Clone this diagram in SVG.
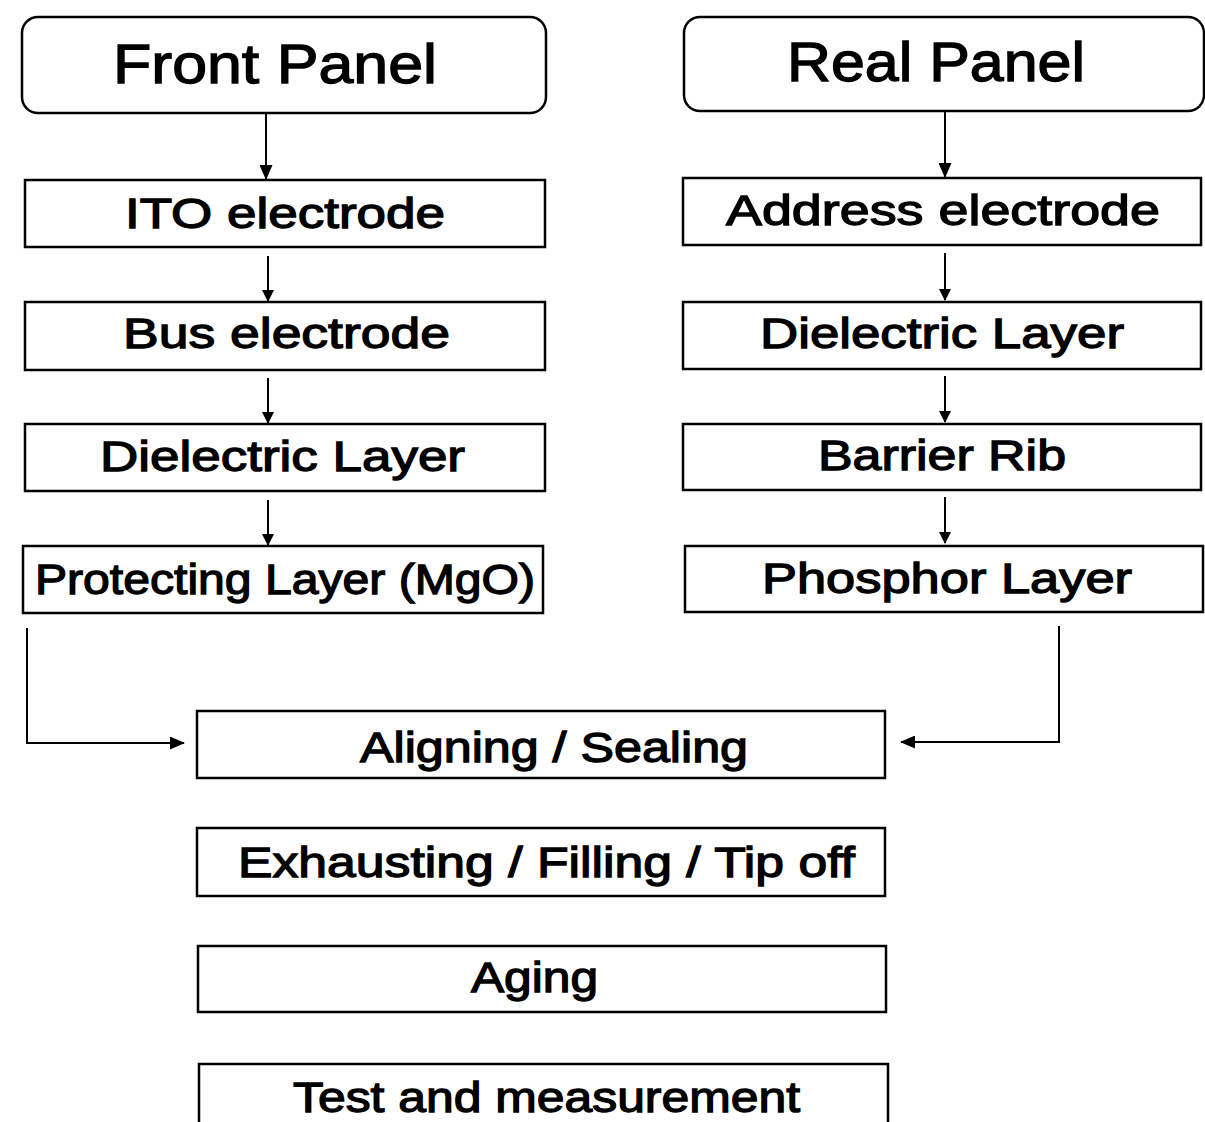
<svg xmlns="http://www.w3.org/2000/svg" width="1205" height="1122" viewBox="0 0 1205 1122">
<style>
.box{fill:#fff;stroke:#000;stroke-width:2.5}
.t{font-family:"Liberation Sans",Arial,sans-serif;font-weight:normal;fill:#000;stroke:#000;stroke-width:1.3}
.big{font-size:56px}
.mid{font-size:43px}
.c{fill:none;stroke:#000;stroke-width:2}
</style>
<defs>
<marker id="ah" markerWidth="12" markerHeight="12" refX="11" refY="6" orient="auto" markerUnits="userSpaceOnUse" viewBox="0 0 12 12">
<path d="M0,0 L12,6 L0,12 z" fill="#000"/>
</marker>
<marker id="ah2" markerWidth="15" markerHeight="13" refX="14" refY="6.5" orient="auto" markerUnits="userSpaceOnUse" viewBox="0 0 15 13">
<path d="M0,0 L15,6.5 L0,13 z" fill="#000"/>
</marker>
</defs>
<rect width="1205" height="1122" fill="#fff"/>
<g id="connectors">
<line class="c" x1="266" y1="113" x2="266" y2="179" marker-end="url(#ah2)"/>
<line class="c" x1="268" y1="256" x2="268" y2="301" marker-end="url(#ah)"/>
<line class="c" x1="268" y1="378" x2="268" y2="423" marker-end="url(#ah)"/>
<line class="c" x1="268" y1="500" x2="268" y2="545" marker-end="url(#ah)"/>
<line class="c" x1="945" y1="111" x2="945" y2="177" marker-end="url(#ah2)"/>
<line class="c" x1="945" y1="253" x2="945" y2="300" marker-end="url(#ah)"/>
<line class="c" x1="945" y1="376" x2="945" y2="422" marker-end="url(#ah)"/>
<line class="c" x1="945" y1="497" x2="945" y2="543" marker-end="url(#ah)"/>
<polyline class="c" points="27,628 27,743 184,743" marker-end="url(#ah2)"/>
<polyline class="c" points="1059,626 1059,742 901,742" marker-end="url(#ah2)"/>
</g>
<g id="front-panel">
<rect class="box" x="22" y="17" width="524" height="96" rx="16"/>
<text class="t big" x="113" y="83" textLength="324" lengthAdjust="spacingAndGlyphs">Front Panel</text>
</g>
<g id="real-panel">
<rect class="box" x="684" y="17" width="520" height="94" rx="16"/>
<text class="t big" x="787" y="81" textLength="298" lengthAdjust="spacingAndGlyphs">Real Panel</text>
</g>
<g id="ito">
<rect class="box" x="25" y="180" width="520" height="67"/>
<text class="t mid" x="125" y="228" textLength="320" lengthAdjust="spacingAndGlyphs">ITO electrode</text>
</g>
<g id="bus">
<rect class="box" x="25" y="302" width="520" height="68"/>
<text class="t mid" x="123" y="348" textLength="327" lengthAdjust="spacingAndGlyphs">Bus electrode</text>
</g>
<g id="dielectric-front">
<rect class="box" x="25" y="424" width="520" height="67"/>
<text class="t mid" x="100" y="471" textLength="365" lengthAdjust="spacingAndGlyphs">Dielectric Layer</text>
</g>
<g id="protecting">
<rect class="box" x="23" y="546" width="520" height="67"/>
<text class="t mid" x="35" y="594" textLength="500" lengthAdjust="spacingAndGlyphs">Protecting Layer (MgO)</text>
</g>
<g id="address">
<rect class="box" x="683" y="178" width="518" height="67"/>
<text class="t mid" x="726" y="225" textLength="434" lengthAdjust="spacingAndGlyphs">Address electrode</text>
</g>
<g id="dielectric-rear">
<rect class="box" x="683" y="302" width="518" height="67"/>
<text class="t mid" x="760" y="348" textLength="364" lengthAdjust="spacingAndGlyphs">Dielectric Layer</text>
</g>
<g id="barrier">
<rect class="box" x="683" y="424" width="518" height="66"/>
<text class="t mid" x="818" y="470" textLength="248" lengthAdjust="spacingAndGlyphs">Barrier Rib</text>
</g>
<g id="phosphor">
<rect class="box" x="685" y="546" width="518" height="66"/>
<text class="t mid" x="762" y="593" textLength="370" lengthAdjust="spacingAndGlyphs">Phosphor Layer</text>
</g>
<g id="aligning">
<rect class="box" x="197" y="711" width="688" height="67"/>
<text class="t mid" x="360" y="762" textLength="388" lengthAdjust="spacingAndGlyphs">Aligning / Sealing</text>
</g>
<g id="exhausting">
<rect class="box" x="197" y="828" width="688" height="68"/>
<text class="t mid" x="238" y="877" textLength="617" lengthAdjust="spacingAndGlyphs">Exhausting / Filling / Tip off</text>
</g>
<g id="aging">
<rect class="box" x="198" y="946" width="688" height="66"/>
<text class="t mid" x="471" y="992" textLength="127" lengthAdjust="spacingAndGlyphs">Aging</text>
</g>
<g id="test">
<path class="box" d="M199,1124 L199,1064 L888,1064 L888,1124"/>
<text class="t mid" x="293" y="1112" textLength="507" lengthAdjust="spacingAndGlyphs">Test and measurement</text>
</g>
</svg>
